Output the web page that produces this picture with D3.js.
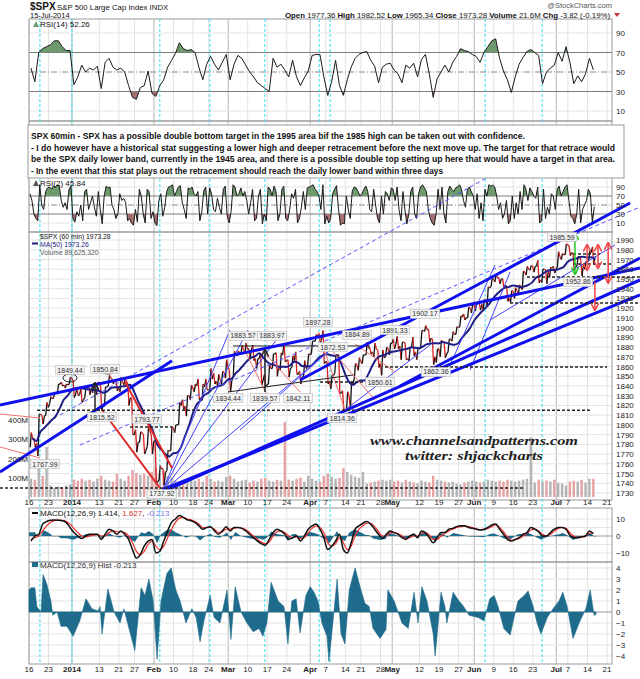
<!DOCTYPE html>
<html>
<head>
<meta charset="utf-8">
<script src="https://cdn.jsdelivr.net/npm/d3@7/dist/d3.min.js"></script>
<style>
  body { margin: 0; background: #fff; }
  svg { display: block; font-family: "Liberation Sans", Arial, sans-serif; }
</style>
</head>
<body>
<svg id="chart" width="640" height="679"></svg>
<script>
/* ===== data (trading-day index 0 = 16 Dec 2013) ===== */
const tickDays   = [0,5,11,18,23,27,32,37,42,46,51,56,61,66,72,76,81,85,90,93,100,105,110,114,119,124,129,135,138,143,148];
const tickLabels = ["16","23","2014","13","21","27","Feb","10","18","24","Mar","10","17","24","Apr","7","14","21","28","May","12","19","27","Jun","9","16","23","Jul","7","14","21"];
const monthLabels = ["2014","Feb","Mar","Apr","May","Jun","Jul"];
const markerDays = [2.8, 11, 33.5, 46.3, 60.4, 74.3, 77.1, 116.8, 131.4];

const close = [1786,1781,1811,1809,1818,1827,1833,1842,1841,1841,1848,
  1832,1831,1826,1838,1837,1838,1843,1819,1839,1848,1846,1838,1844,1845,1828,1790,1782,1792,1774,1794,1783,
  1742,1755,1751,1773,1797,1800,1820,1819,1830,1838,1840,1828,1839,1836,1847,1845,1846,1854,1859,
  1846,1873,1874,1877,1878,1877,1868,1868,1846,1841,1858,1873,1861,1872,1866,1858,1866,1852,1849,1858,1872,
  1886,1891,1888,1865,1845,1851,1872,1833,1815,1830,1842,1862,1865,1872,1879,1875,1878,1863,1869,1878,1884,
  1883,1881,1885,1868,1879,1875,1879,1897,1898,1889,1870,1878,1885,1873,1888,1893,1900,1911,1910,1920,1924,
  1925,1924,1928,1941,1950,1951,1950,1943,1930,1937,1938,1942,1957,1960,1963,1963,1949,1960,1958,1961,1960,
  1973,1975,1985,1977,1963,1973,1964,1967,1977,1973];
const high = [1792,1786,1811,1810,1823,1829,1833,1842,1844,1842,1849,
  1845,1838,1837,1840,1840,1843,1844,1843,1839,1851,1847,1846,1849,1847,1842,1827,1795,1793,1790,1798,1790,
  1784,1758,1755,1774,1798,1800,1823,1826,1830,1841,1842,1847,1842,1847,1858,1853,1852,1855,1867,
  1857,1876,1876,1882,1884,1878,1882,1868,1874,1852,1862,1873,1874,1874,1884,1867,1871,1875,1855,1866,1873,
  1886,1893,1894,1897,1865,1851,1872,1872,1835,1834,1844,1863,1869,1872,1885,1879,1884,1877,1877,1880,1884,
  1888,1891,1885,1884,1880,1890,1879,1897,1902,1898,1888,1878,1887,1885,1888,1896,1901,1912,1914,1921,1924,
  1926,1925,1929,1942,1950,1955,1951,1950,1943,1938,1941,1944,1958,1963,1964,1963,1969,1960,1959,1962,1963,
  1978,1976,1986,1984,1976,1973,1969,1968,1979,1983];
const low = [1777,1777,1768,1801,1810,1822,1828,1834,1840,1838,1842,
  1828,1830,1823,1828,1831,1833,1831,1815,1819,1840,1842,1835,1834,1841,1820,1790,1772,1782,1770,1778,1770,
  1740,1743,1738,1753,1774,1792,1800,1816,1809,1826,1834,1826,1825,1836,1836,1842,1840,1842,1848,
  1834,1849,1871,1874,1874,1869,1866,1858,1841,1840,1842,1858,1850,1856,1865,1849,1859,1852,1842,1850,1859,
  1873,1886,1884,1863,1842,1837,1853,1832,1815,1815,1816,1848,1856,1863,1872,1873,1870,1859,1851,1870,1872,
  1878,1878,1867,1867,1866,1871,1867,1880,1896,1885,1862,1864,1870,1869,1875,1886,1893,1901,1908,1910,1915,
  1917,1918,1918,1922,1942,1947,1945,1940,1927,1926,1930,1934,1939,1954,1959,1957,1946,1946,1945,1952,1956,
  1962,1970,1975,1974,1959,1963,1953,1960,1969,1965];
// volume, millions (largest hourly bar of each day)
const volume = [95,90,150,110,260,60,45,55,50,60,65,
  90,85,95,85,90,80,95,110,90,85,80,120,95,85,110,140,125,115,120,110,130,
  150,125,135,110,100,85,80,75,95,90,85,95,80,110,95,80,85,80,105,
  110,95,80,85,90,75,85,80,95,100,85,80,90,85,390,90,85,95,100,80,110,
  95,85,80,110,120,105,95,100,150,130,115,105,100,130,70,75,80,85,90,85,90,
  80,85,75,90,80,75,70,85,80,75,110,90,85,80,75,80,70,65,75,80,85,
  80,75,80,90,85,80,85,80,90,85,80,85,90,95,310,75,90,80,85,80,90,
  75,70,60,80,85,80,90,75,95,95];

const rsi14 = [54,40,70,74,76,78,82,82,76,72,72,
  37,45,57,50,54,52,56,33,60,64,55,52,54,50,36,24,22,34,36,51,28,
  25,36,42,55,62,69,80,74,72,73,70,55,42,58,66,58,52,60,68,
  42,58,67,64,57,50,45,39,36,33,30,64,55,58,52,45,62,45,36,44,51,
  67,68,68,45,26,40,62,36,26,42,55,64,68,70,71,62,56,39,55,58,59,
  52,48,39,57,54,59,45,63,68,48,24,43,50,57,50,60,66,74,72,71,68,
  66,60,70,76,82,84,64,51,42,29,45,58,65,71,73,70,67,38,50,54,57,
  70,61,76,60,38,46,40,48,64,52.26];

// RSI(2): two readings per trading day
const rsi2 = [[75,60],[30,20],[15,95],[50,40],[80,88],[90,85],[92,90],[94,93],[60,45],[55,40],[85,92],
  [20,12],[35,25],[50,15],[80,85],[40,55],[70,45],[25,80],[40,8],[70,92],[88,90],[50,40],[20,30],[75,60],[65,55],[15,20],[10,5],[40,12],[85,70],[30,10],[85,80],[20,35],
  [10,4],[60,75],[25,45],[80,90],[92,95],[70,80],[90,93],[55,40],[20,88],[85,90],[75,70],[80,15],[35,82],[90,30],[88,75],[40,35],[65,45],[30,85],[92,25],
  [10,35],[95,90],[70,75],[88,70],[80,60],[30,55],[85,15],[20,70],[85,8],[30,15],[90,85],[70,92],[80,15],[30,85],[92,20],[15,40],[75,65],[85,10],[20,45],[80,40],[88,90],
  [92,95],[85,80],[70,40],[95,8],[25,10],[20,75],[85,93],[40,5],[10,8],[70,40],[20,80],[90,88],[80,70],[75,85],[92,80],[40,35],[85,50],[20,10],[70,30],[80,75],[60,88],
  [85,60],[90,40],[15,80],[40,8],[30,80],[90,30],[20,75],[90,95],[88,80],[40,20],[10,5],[30,85],[40,90],[30,10],[80,92],[85,80],[88,90],[95,85],[60,45],[85,90],[80,70],
  [40,75],[20,55],[15,85],[70,95],[92,94],[90,70],[40,55],[20,30],[60,8],[15,70],[20,55],[30,80],[40,95],[85,60],[88,80],[70,65],[90,10],[15,85],[20,45],[30,75],[70,40],
  [85,92],[70,80],[90,95],[60,25],[20,8],[30,85],[10,40],[50,60],[85,75],[10,45.84]];

const macd = [-3,0,1,7,8.5,9.2,9.4,9.3,9,8,5,
  2,0,-1.5,0,1,1,1,-2,1,4,3,1,3,1,-2,-8,-13,-11,-6,-3,-2,
  -10,-9,-3,3,8,10,12,11,9.5,9,8,6,4,5,5.5,3,1,3,5.5,
  3,5,5,4.5,3,1,-1,-3,-4.5,-5.5,-2,2,4,3,1,-2,-1,0,-3,0,4,
  6,7,4,-1,-8,-6,-3,1,-8,-10,-4,4,6,7.5,8.5,7,4,1,-1.5,1,3,
  2,1,-1,-2,0,1,-1,3,2,-1,-4,-1,2,2,4,4.5,5.5,6,6,5,4.5,
  4,3.5,4,5,6.5,7,4,1,-2,-3,-2,-1,1,2,5,4,2.4,0,0,2,4,
  5,5,4,0.4,-1,-1,-0.5,0,3,1.414];
const signal = [-2,-1,0,3,6,8,9,9.3,9.2,8.6,7,
  4.5,2,0,-0.5,0,0.5,1,0,0,2,3,2.5,2.5,2,0,-4,-9,-11,-9,-5,-3,
  -6,-8,-6,-1,4,8,10.5,11,10,9.5,8.5,7,5,5,5,4,2,2.5,4,
  4,4.5,5,4.7,3.8,2,0,-2,-3.5,-4.5,-3.5,0,2.5,3,2,0,-1,-0.5,-1.5,-1,2,
  4.5,6,5,2,-4,-6,-4.5,-1,-4,-8,-6,0,4,6,7.5,7.5,5.5,2.5,0,0,2,
  2,1.5,0,-1.5,-1,0,0,1.5,2,0.5,-2,-2,0,1.5,3,4,5,5.5,6,5.5,5,
  4.3,3.8,3.8,4.5,5.5,6.5,5,2.5,-0.5,-2.5,-2.2,-1.5,0,1.5,3.5,4,3,1,0,1,3,
  4.5,5,4.5,2,0,-0.8,-0.7,-0.2,1.6,1.627];
// MACD histogram readings: [trading-day position, value]
const hist = [[0,2],[0.5,2.2],[1.5,2.2],[2,0.5],[3.1,0],[3.6,3.4],[4.6,2.5],[5.6,1],[6.1,-0.3],[7.2,0],[8.2,-1.3],[9.7,-1.3],[11.3,-2.2],[13,-0.8],
  [14.6,1.2],[16.1,0.3],[17.7,0.1],[18.2,0.5],[18.7,-2],[20.2,2.1],[21.8,0],[23.3,-1],[24.3,0.3],[25.6,-1.5],[27.1,-3.5],[28.7,2.2],[29.7,1.5],
  [30.7,3],[31.8,1],[32.8,-4.3],[33.8,1],[35.3,3.5],[36.4,4],[37.6,2],[38.7,1],[40.2,-1],[41.7,0.3],[42.8,-0.5],[43.8,-2.7],[44.8,-0.8],
  [46.4,1.5],[47.4,-0.5],[48.9,-1],[50.7,2],[51.7,-2.5],[52.8,2.3],[54.3,0],[55.8,-1],[57.4,-1.8],[58.9,-1.5],[59.9,-2.2],[60.9,-1],
  [62,2.7],[63.8,1],[65.3,0.5],[66.3,-2.9],[67.3,1],[68.4,1.2],[69.4,-1.9],[70.9,1.5],[72,2.3],[73,1.8],[74,1],[75,-1],[76.3,-2.2],
  [76.8,-4.5],[77.8,-1],[78.9,3],[79.9,-2],[80.9,-2.9],[82,2],[83.5,4],[85,2],[86,0.8],[87.1,0.5],[88.1,-1.5],[89.9,-2.4],[91.4,-1.6],
  [91.9,2],[93.5,1],[94.5,0],[95.5,-1],[97.1,-1.5],[98.6,1.8],[99.6,-1],[100.6,2.3],[101.9,1],[103.5,-2],[104,-4],[105.5,1.8],[106.5,0.5],
  [107,-1],[108.6,1.8],[110.1,1],[111.1,0.6],[112.7,-0.3],[115,-0.5],[116.5,-0.8],[118,1.2],[119.1,1.5],[120.1,0.5],[121.6,-1.5],
  [123.2,-2.1],[124.2,-0.5],[125.2,1],[126.8,1.5],[127.8,1.9],[129.1,0.5],[130.1,-1],[131.1,-2],[132.7,-0.5],[134.2,0.3],[135.7,1],
  [136.7,1.8],[137.8,0.5],[139.3,-2.4],[141.1,-0.8],[142.6,0.3],[143.7,2],[144.7,-0.3],[145.2,-0.213]];

const priceTicks = d3.range(1730, 1991, 10);
const volTicks = [100, 200, 300, 400];
const rsiTicks = [10, 30, 50, 70, 90];
const macdTicks = [-10, 0, 10];
const histTicks = [-4, -3, -2, -1, 0, 1, 2, 3, 4];

// drawn annotations, in [day, price] units
const thickLines = [[-7.43,1820.4,156.46,1961.2],[69.4,1846.1,153.91,2028.0],[-7.43,1751.6,36.62,1866],
  [34.06,1731.0,156.46,1948.9],[34.06,1733.1,156.46,1933.5],[95.01,1840.0,156.46,1971.5]];
const thinLines = [[34.06,1731,51.47,1897.5],[34.06,1731,56.08,1897.5],[34.06,1731,64.28,1892.4],[34.06,1731,77.08,1877],
  [107.81,1861.5,119.33,1964.3],[112.93,1856.4,123.18,1957.1],[118.05,1907.8,150.06,1984.9],[54.03,1794.7,77.08,1877],[80.92,1815.3,102.69,1882.1]];
const dashedLines = [[7.94,1810.2,118.05,2055.8],[13.06,1779.3,156.46,2023.9]];
const redThick = [[18.69,1815.3,33.55,1735.1],[24.58,1844.1,36.62,1755.7]];
const redThin = [[-7.43,1811.2,2.82,1807.1],[-7.43,1777.3,2.82,1766.0],[54.8,1880,60.69,1832.8],[74.01,1895.5,80.92,1815.3],
  [76.31,1882.1,88.6,1825.6],[83.48,1883.1,93.73,1854.4],[59.67,1877,69.4,1833.8]];
const blackLines = [[52.24,1881.1,87.32,1881.1],[50.96,1833.8,82.97,1851.3]];
const levels = [[2.05,143.66,1815],[25.86,36.62,1797.8],[-7.43,126.5,1735.1],[74.52,91.16,1844],[91.16,148,1859.5],
  [123.18,156.46,1925.3],[127.5,156.46,1952],[139.3,149.55,1965.3],[139.3,146.22,1975.6]];
const arrows = [[139.8,1997,1955,"#22cc22",true],[142.9,1985,1959,"#ee4444",true],[145.7,1985,1961,"#ee4444",true],
  [148.3,1987,1946,"#ee4444",true],[144.9,1947,1918,"#ee4444",false],[16.9,1815.3,1843,"#222",false],[60.43,1833.8,1877,"#222",false]];
const circles = [[10.5,1848.2],[20.23,1856.4]];
const priceNotes = [[10.5,1856.4,"1849.44"],[19.5,1857.4,"1850.84"],[18.7,1808,"1815.52"],[30.2,1806,"1793.77"],[4.1,1759.8,"1767.99"],
  [34,1729,"1737.92"],[54.8,1891.4,"1883.57"],[62.2,1891.4,"1883.97"],[74,1905.7,"1897.28"],[51,1827.6,"1834.44"],[60.4,1827.6,"1839.57"],
  [68.9,1827.6,"1842.11"],[77.8,1880,"1872.53"],[84,1892.4,"1884.89"],[93.7,1897.5,"1891.33"],[101.4,1914,"1902.17"],[89.9,1844,"1850.61"],
  [104.2,1854.4,"1862.36"],[80.2,1807,"1814.36"],[136.5,1993,"1985.59"],[140.6,1946.9,"1952.86"]];

const noteLines = [
  "SPX 60min - SPX has a possible double bottom target in the 1995 area bif the 1985 high can be taken out with confidence.",
  "- I do however have a historical stat suggesting a lower high and deeper retracement before the next move up. The target for that retrace would",
  "be the SPX daily lower band, currently in the 1945 area, and there is a possible double top setting up here that would have a target in that area.",
  "- In the event that this stat plays out the retracement should reach the daily lower band within three days"];
const noteWidths = [494, 584, 584, 412];

/* ===== layout ===== */
const svg = d3.select("#chart");
const L = 29, R = 612;
const P = { rsi14: [19, 121], rsi2: [121, 232], price: [232, 500], macd: [508, 562], hist: [562, 664] };

const x = d3.scaleLinear().domain([0, 148]).range([29, 607]);
const yPrice = d3.scaleLinear().domain([1730, 1990]).range([493, 240]);
const yVol = d3.scaleLinear().domain([0, 400]).range([497, 420]);
const yRsi14 = d3.scaleLinear().domain([10, 90]).range([111, 33]);
const yRsi2 = d3.scaleLinear().domain([10, 90]).range([223, 187]);
const yMacd = d3.scaleLinear().domain([-10, 10]).range([553, 519]);
const yHist = d3.scaleLinear().domain([-4, 4]).range([656, 568]);

svg.append("rect").attr("width", 640).attr("height", 679).attr("fill", "#fff");

const defs = svg.append("defs");
const clip = (id, x0, y0, w, h) => defs.append("clipPath").attr("id", id)
  .append("rect").attr("x", x0).attr("y", y0).attr("width", w).attr("height", h);
clip("annClip", 0, 178, 640, 322);
clip("priceClip", L, 232, R - L, 268);
const arrowColors = ["#ee4444", "#22cc22", "#222"];
arrowColors.forEach((c, i) => {
  defs.append("marker").attr("id", "arr" + i).attr("viewBox", "0 0 10 10").attr("refX", 9).attr("refY", 5)
    .attr("markerWidth", 5).attr("markerHeight", 5).attr("orient", "auto-start-reverse")
    .append("path").attr("d", "M0,0L10,5L0,10").attr("fill", "none").attr("stroke", c).attr("stroke-width", 2);
});
const arrowId = c => "url(#arr" + arrowColors.indexOf(c) + ")";

/* grids & frames */
const grid = svg.append("g");
Object.values(P).forEach(([t, b]) => {
  tickDays.forEach((d, i) => {
    grid.append("line").attr("x1", x(d)).attr("x2", x(d)).attr("y1", t).attr("y2", b)
      .attr("stroke", monthLabels.includes(tickLabels[i]) ? "#b5b5b5" : "#e3e3e3");
  });
});
const hGrid = (scale, vals, color) => vals.forEach(v => grid.append("line")
  .attr("x1", L).attr("x2", R).attr("y1", scale(v)).attr("y2", scale(v)).attr("stroke", color || "#e3e3e3"));
hGrid(yPrice, priceTicks);
hGrid(yRsi14, [10, 90]);
hGrid(yRsi2, [10, 90]);
hGrid(yMacd, [-10, -5, 5, 10]);
hGrid(yHist, histTicks.filter(v => v !== 0));
[yRsi14, yRsi2].forEach(s => {
  hGrid(s, [30, 70], "#7a7a7a");
  grid.append("line").attr("x1", L).attr("x2", R).attr("y1", s(50)).attr("y2", s(50))
    .attr("stroke", "#888").attr("stroke-dasharray", "6,2,1,2");
});
hGrid(yMacd, [0], "#9a9a9a");
hGrid(yHist, [0], "#9a9a9a");
Object.values(P).forEach(([t, b]) => grid.append("rect").attr("x", L).attr("y", t)
  .attr("width", R - L).attr("height", b - t).attr("fill", "none").attr("stroke", "#9a9a9a"));

/* cyan markers */
markerDays.forEach(d => svg.append("line").attr("x1", x(d)).attr("x2", x(d)).attr("y1", 19).attr("y2", 664)
  .attr("stroke", "#33e0f0").attr("stroke-dasharray", "3,2"));

/* volume */
svg.append("g").selectAll("rect").data(volume).join("rect")
  .attr("x", (d, i) => x(i + 0.5) - 1.2).attr("width", 2.4)
  .attr("y", d => yVol(d)).attr("height", d => yVol(0) - yVol(d))
  .attr("fill", (d, i) => i && close[i] < close[i - 1] ? "#e8a2a2" : "#b4b4b4");

/* RSI panels */
function oscillator(pts, yS, t, b) {
  const g = svg.append("g");
  const id = "c" + t;
  clip(id + "hi", L, t, R - L, yS(70) - t);
  clip(id + "lo", L, yS(30), R - L, b - yS(30));
  const area = base => d3.area().x(d => x(d[0])).y0(yS(base)).y1(d => yS(d[1]));
  g.append("path").datum(pts).attr("d", area(70)).attr("fill", "#6e9a6e").attr("clip-path", `url(#${id}hi)`);
  g.append("path").datum(pts).attr("d", area(30)).attr("fill", "#a77070").attr("clip-path", `url(#${id}lo)`);
  g.append("path").datum(pts).attr("d", d3.line().x(d => x(d[0])).y(d => yS(d[1])))
    .attr("fill", "none").attr("stroke", "#1a1a1a").attr("stroke-width", 1);
}
oscillator(rsi14.map((v, i) => [i + 0.5, v]), yRsi14, 19, 121);
oscillator(rsi2.flatMap((p, i) => [[i + 0.25, p[0]], [i + 0.75, p[1]]]), yRsi2, 178, 232);

/* price */
const pts = [];
close.forEach((c, i) => {
  const prev = i ? close[i - 1] : c;
  const [a, b] = c >= prev ? [low[i], high[i]] : [high[i], low[i]];
  pts.push([i + 0.3, a], [i + 0.6, b], [i + 0.95, c]);
});
const gPrice = svg.append("g").attr("clip-path", "url(#priceClip)");
gPrice.selectAll("line").data(d3.pairs(pts)).join("line")
  .attr("x1", d => x(d[0][0])).attr("y1", d => yPrice(d[0][1]))
  .attr("x2", d => x(d[1][0])).attr("y2", d => yPrice(d[1][1]))
  .attr("stroke", d => d[1][1] < d[0][1] ? "#d42020" : "#111").attr("stroke-width", 1.3);
const ma = close.map((c, i) => [i + 0.9, d3.mean(close.slice(Math.max(0, i - 6), i + 1))]);
gPrice.append("path").datum(ma).attr("d", d3.line().curve(d3.curveMonotoneX).x(d => x(d[0])).y(d => yPrice(d[1])))
  .attr("fill", "none").attr("stroke", "#1d1d86").attr("stroke-width", 2);

/* annotations */
const ann = svg.append("g").attr("clip-path", "url(#annClip)");
const seg = (list, color, w, dash) => list.forEach(l => ann.append("line")
  .attr("x1", x(l[0])).attr("y1", yPrice(l[1])).attr("x2", x(l[2])).attr("y2", yPrice(l[3]))
  .attr("stroke", color).attr("stroke-width", w).attr("stroke-dasharray", dash || null));
seg(dashedLines, "#5555ff", 1, "4,3");
seg(thinLines, "#4444ff", 1);
seg(redThin, "#f07070", 1);
seg(blackLines, "#222", 1);
seg(thickLines, "#1010ee", 3);
seg(redThick, "#e02a2a", 2);
levels.forEach(l => ann.append("line").attr("x1", x(l[0])).attr("x2", x(l[1]))
  .attr("y1", yPrice(l[2])).attr("y2", yPrice(l[2])).attr("stroke", "#222").attr("stroke-width", 1.5).attr("stroke-dasharray", "3,2"));
arrows.forEach(a => ann.append("line").attr("x1", x(a[0])).attr("x2", x(a[0]))
  .attr("y1", yPrice(a[1])).attr("y2", yPrice(a[2])).attr("stroke", a[3]).attr("stroke-width", 1.5)
  .attr("marker-end", arrowId(a[3])).attr("marker-start", a[4] ? arrowId(a[3]) : null));
circles.forEach(c => ann.append("ellipse").attr("cx", x(c[0])).attr("cy", yPrice(c[1])).attr("rx", 7).attr("ry", 4)
  .attr("fill", "none").attr("stroke", "#222"));
priceNotes.forEach(n => {
  const g = ann.append("g");
  const t = g.append("text").attr("x", x(n[0])).attr("y", yPrice(n[1]) + 2.5).attr("text-anchor", "middle")
    .attr("font-size", 7).attr("fill", "#333").text(n[2]);
  const w = t.node().getComputedTextLength() + 4;
  g.insert("rect", "text").attr("x", x(n[0]) - w / 2).attr("y", yPrice(n[1]) - 4.5).attr("width", w).attr("height", 9)
    .attr("fill", "#f2f2f2").attr("stroke", "#bbb").attr("stroke-width", 0.6);
});

/* MACD panels */
const histArea = ys => d3.area().x(d => x(d[0])).y0(ys(0)).y1(d => ys(d[1]));
svg.append("path").datum(hist).attr("d", histArea(yMacd)).attr("fill", "#1f6b8c");
svg.append("path").datum(signal.map((v, i) => [i + 0.5, v]))
  .attr("d", d3.line().curve(d3.curveMonotoneX).x(d => x(d[0])).y(d => yMacd(d[1])))
  .attr("fill", "none").attr("stroke", "#f03030").attr("stroke-width", 1.2);
svg.append("path").datum(macd.map((v, i) => [i + 0.5, v]))
  .attr("d", d3.line().curve(d3.curveMonotoneX).x(d => x(d[0])).y(d => yMacd(d[1])))
  .attr("fill", "none").attr("stroke", "#111").attr("stroke-width", 1.5);
svg.append("path").datum(hist).attr("d", histArea(yHist)).attr("fill", "#1f6b8c").attr("stroke", "#1f6b8c").attr("stroke-width", 0.6);

/* axes */
const rightAxis = (scale, vals) => svg.append("g").attr("transform", `translate(${R},0)`)
  .call(d3.axisRight(scale).tickValues(vals).tickSize(0).tickPadding(4).tickFormat(d3.format("d")))
  .call(g => g.select(".domain").remove())
  .call(g => g.selectAll("text").attr("font-size", 8).attr("fill", "#222").attr("font-family", "Liberation Sans"));
rightAxis(yRsi14, rsiTicks);
rightAxis(yRsi2, rsiTicks);
rightAxis(yPrice, priceTicks);
rightAxis(yMacd, macdTicks);
rightAxis(yHist, histTicks);
svg.append("g").selectAll("text").data(volTicks).join("text")
  .attr("x", 28).attr("y", d => yVol(d) + 3).attr("text-anchor", "end").attr("font-size", 8).attr("fill", "#222")
  .text(d => d + "M");
[505, 672].forEach(yy => svg.append("g").selectAll("text").data(tickDays).join("text")
  .attr("x", d => x(d)).attr("y", yy).attr("text-anchor", "middle").attr("font-size", 8).attr("fill", "#222")
  .attr("font-weight", (d, i) => monthLabels.includes(tickLabels[i]) ? "bold" : null)
  .text((d, i) => tickLabels[i]));

/* note box: small bold type stretched vertically to look like a condensed face */
svg.append("rect").attr("x", 28).attr("y", 125).attr("width", 596).attr("height", 53)
  .attr("fill", "#fff").attr("stroke", "#999");
svg.append("g").selectAll("text").data(noteLines).join("text")
  .attr("transform", (d, i) => `translate(31,${139 + i * 11.7}) scale(1,1.3)`)
  .attr("font-weight", "bold").attr("font-size", 7.4).attr("fill", "#111")
  .attr("textLength", (d, i) => noteWidths[i]).attr("lengthAdjust", "spacingAndGlyphs").text(d => d);

/* header & legends */
const txt = (xx, yy, s, size, opts = {}) => svg.append("text").attr("x", xx).attr("y", yy)
  .attr("font-size", size).attr("fill", opts.fill || "#111").attr("font-weight", opts.bold ? "bold" : null)
  .attr("text-anchor", opts.anchor || null).text(s);
txt(30, 10, "$SPX", 10, { bold: true });
txt(57, 10, "S&P 500 Large Cap Index  INDX", 7.8);
txt(30, 18, "15-Jul-2014", 7.5);
txt(612, 8, "@StockCharts.com", 7.5, { anchor: "end", fill: "#555" });
const hdr = svg.append("text").attr("x", 610).attr("y", 18).attr("text-anchor", "end").attr("font-size", 7.8).attr("fill", "#111");
[["Open ", 1], ["1977.36  ", 0], ["High ", 1], ["1982.52  ", 0], ["Low ", 1], ["1965.34  ", 0], ["Close ", 1], ["1973.28  ", 0],
 ["Volume ", 1], ["21.6M  ", 0], ["Chg ", 1], ["-3.82 (-0.19%)", 0]]
  .forEach(([s, b]) => hdr.append("tspan").attr("font-weight", b ? "bold" : null).text(s));
svg.append("path").attr("d", "M614,13L620,13L617,17Z").attr("fill", "#c33");

const icon = (xx, yy, c) => svg.append("path").attr("d", `M${xx},${yy}l3,-6l3,6Z`).attr("fill", c);
icon(33, 27, "#6e9a6e"); txt(40, 27, "RSI(14) 52.26", 8);
icon(33, 186, "#555"); txt(40, 186, "RSI(2) 45.84", 8);
txt(40, 238.5, "$SPX (60 min) 1973.28", 6.8);
svg.append("line").attr("x1", 32).attr("x2", 38).attr("y1", 243.5).attr("y2", 243.5).attr("stroke", "#1d1d86").attr("stroke-width", 2);
txt(40, 246.5, "MA(50) 1973.26", 6.8, { fill: "#1d1d86" });
txt(40, 254.5, "Volume 89,625,320", 6.8, { fill: "#555" });
svg.append("line").attr("x1", 32).attr("x2", 38).attr("y1", 513).attr("y2", 513).attr("stroke", "#111").attr("stroke-width", 2);
const ml = svg.append("text").attr("x", 40).attr("y", 516).attr("font-size", 8);
[["MACD(12,26,9) 1.414, ", "#111"], ["1.627", "#e03030"], [", ", "#111"], ["-0.213", "#7777ee"]]
  .forEach(([s, c]) => ml.append("tspan").attr("fill", c).text(s));
svg.append("rect").attr("x", 32).attr("y", 562).attr("width", 6).attr("height", 5).attr("fill", "#1f6b8c");
txt(40, 568, "MACD(12,26,9) Hist -0.213", 8, { fill: "#333" });

/* watermark */
svg.append("text").attr("x", 370).attr("y", 445).attr("font-family", "'Liberation Serif', serif").attr("font-style", "italic")
  .attr("font-weight", "bold").attr("font-size", 13).attr("fill", "#222")
  .attr("textLength", 208).attr("lengthAdjust", "spacingAndGlyphs").text("www.channelsandpatterns.com");
svg.append("text").attr("x", 405).attr("y", 460).attr("font-family", "'Liberation Serif', serif").attr("font-style", "italic")
  .attr("font-weight", "bold").attr("font-size", 13).attr("fill", "#222")
  .attr("textLength", 138).attr("lengthAdjust", "spacingAndGlyphs").text("twitter: shjackcharts");
</script>
</body>
</html>
